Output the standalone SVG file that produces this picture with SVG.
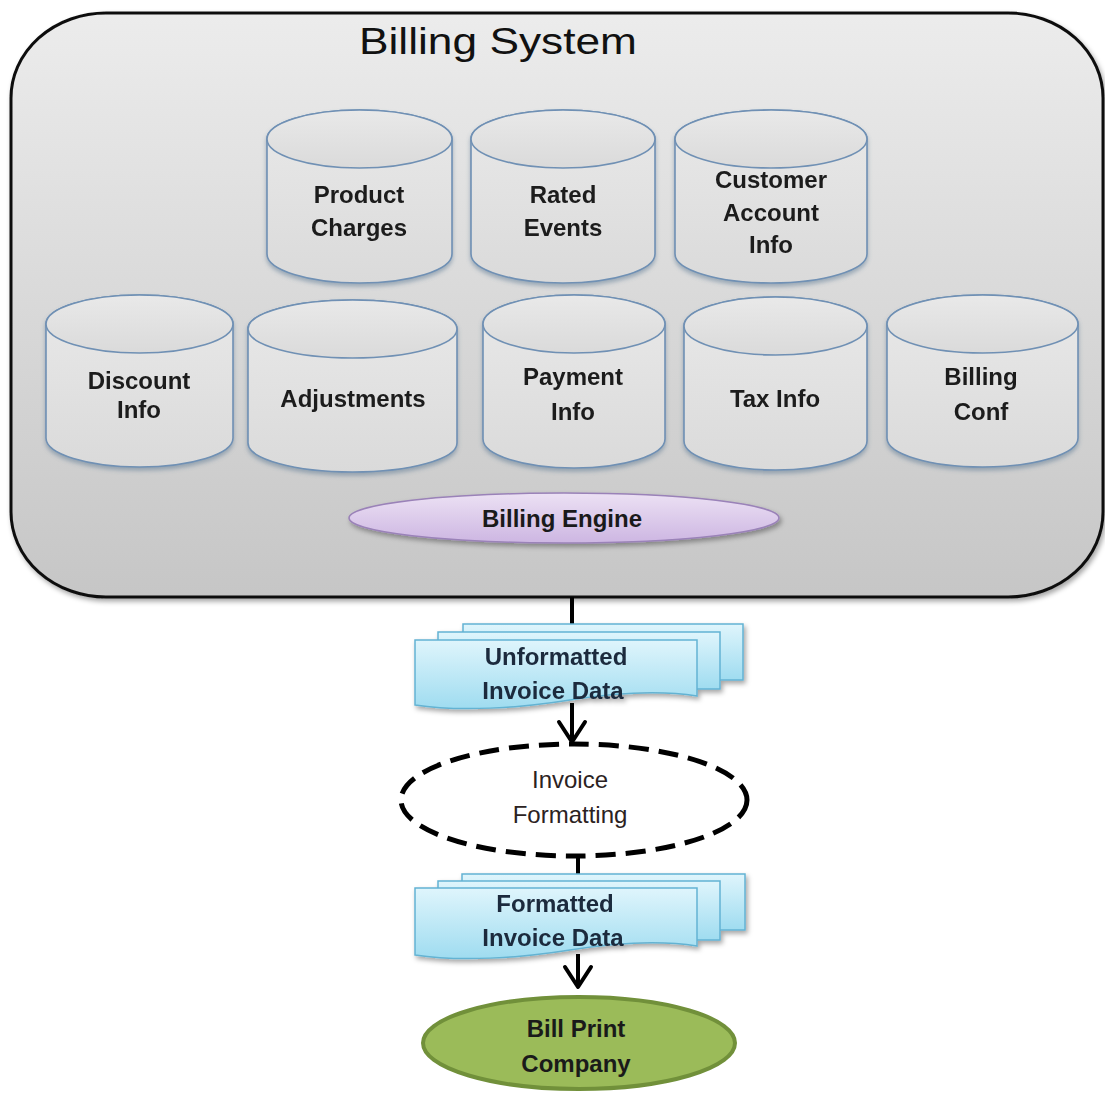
<svg xmlns="http://www.w3.org/2000/svg" width="1105" height="1095" viewBox="0 0 1105 1095">
<defs>
  <linearGradient id="gBox" x1="0" y1="0" x2="0" y2="1">
    <stop offset="0" stop-color="#ececec"/>
    <stop offset="1" stop-color="#c6c6c6"/>
  </linearGradient>
  <linearGradient id="gCyl" x1="0" y1="0" x2="0" y2="1">
    <stop offset="0" stop-color="#e9e9e9"/>
    <stop offset="1" stop-color="#dadada"/>
  </linearGradient>
  <linearGradient id="gEng" x1="0" y1="0" x2="0" y2="1">
    <stop offset="0" stop-color="#ece1f4"/>
    <stop offset="1" stop-color="#cdb6e2"/>
  </linearGradient>
  <linearGradient id="gDoc" x1="0" y1="0" x2="0" y2="1">
    <stop offset="0" stop-color="#dff5fc"/>
    <stop offset="1" stop-color="#9fdcf0"/>
  </linearGradient>
  <filter id="shadow" x="-10%" y="-10%" width="120%" height="130%">
    <feDropShadow dx="2" dy="3" stdDeviation="2.5" flood-color="#000" flood-opacity="0.35"/>
  </filter>
  <filter id="cshadow" x="-10%" y="-10%" width="120%" height="130%">
    <feDropShadow dx="0" dy="3" stdDeviation="2" flood-color="#4a6a8a" flood-opacity="0.45"/>
  </filter>
  <marker id="vee" viewBox="-24 -16 28 32" refX="0" refY="0" markerWidth="28" markerHeight="32" markerUnits="userSpaceOnUse" orient="auto">
    <path d="M-20,-13 L0,0 L-20,13" fill="none" stroke="#000" stroke-width="4" stroke-linecap="round" stroke-linejoin="round"/>
  </marker>
</defs>
<style>
  .cyl path, .cyl ellipse { fill: url(#gCyl); stroke: #6f90b4; stroke-width: 1.6; }
  .lbl { font-family: "Liberation Sans", Arial, sans-serif; font-weight: bold; font-size: 24px; fill: #1a1a1a; text-anchor: middle; }
  .doc path { fill: url(#gDoc); stroke: #63b3d3; stroke-width: 1.5; }
  .doctxt { font-family: "Liberation Sans", Arial, sans-serif; font-weight: bold; font-size: 24px; fill: #1b2a3c; text-anchor: middle; }
  .conn { stroke: #000; stroke-width: 4; fill: none; }
</style>

<rect width="1105" height="1095" fill="#ffffff"/>

<g id="billing-system">
  <rect x="11" y="13" width="1092" height="584" rx="95" ry="85" fill="url(#gBox)" stroke="#111" stroke-width="3" filter="url(#shadow)"/>
  <text x="498" y="54" font-family="Liberation Sans, Arial, sans-serif" font-size="37" fill="#111" text-anchor="middle" textLength="278" lengthAdjust="spacingAndGlyphs">Billing System</text>
</g>

<g id="product-charges" class="cyl" filter="url(#cshadow)">
  <path d="M267,139 A92.5,29 0 0 1 452,139 V254 A92.5,29 0 0 1 267,254 Z"/>
  <ellipse cx="359.5" cy="139" rx="92.5" ry="29"/>
  <text class="lbl" x="359" y="203">Product</text>
  <text class="lbl" x="359" y="236">Charges</text>
</g>
<g id="rated-events" class="cyl" filter="url(#cshadow)">
  <path d="M471,139 A92,29 0 0 1 655,139 V254 A92,29 0 0 1 471,254 Z"/>
  <ellipse cx="563" cy="139" rx="92" ry="29"/>
  <text class="lbl" x="563" y="203">Rated</text>
  <text class="lbl" x="563" y="236">Events</text>
</g>
<g id="customer-account-info" class="cyl" filter="url(#cshadow)">
  <path d="M675,139 A96,29 0 0 1 867,139 V254 A96,29 0 0 1 675,254 Z"/>
  <ellipse cx="771" cy="139" rx="96" ry="29"/>
  <text class="lbl" x="771" y="188">Customer</text>
  <text class="lbl" x="771" y="221">Account</text>
  <text class="lbl" x="771" y="253">Info</text>
</g>

<g id="discount-info" class="cyl" filter="url(#cshadow)">
  <path d="M46,324 A93.5,29 0 0 1 233,324 V438 A93.5,29 0 0 1 46,438 Z"/>
  <ellipse cx="139.5" cy="324" rx="93.5" ry="29"/>
  <text class="lbl" x="139" y="389">Discount</text>
  <text class="lbl" x="139" y="418">Info</text>
</g>
<g id="adjustments" class="cyl" filter="url(#cshadow)">
  <path d="M248,329 A104.5,29 0 0 1 457,329 V443 A104.5,29 0 0 1 248,443 Z"/>
  <ellipse cx="352.5" cy="329" rx="104.5" ry="29"/>
  <text class="lbl" x="353" y="407">Adjustments</text>
</g>
<g id="payment-info" class="cyl" filter="url(#cshadow)">
  <path d="M483,324 A91,29 0 0 1 665,324 V439 A91,29 0 0 1 483,439 Z"/>
  <ellipse cx="574" cy="324" rx="91" ry="29"/>
  <text class="lbl" x="573" y="385">Payment</text>
  <text class="lbl" x="573" y="420">Info</text>
</g>
<g id="tax-info" class="cyl" filter="url(#cshadow)">
  <path d="M684,326 A91.5,29 0 0 1 867,326 V441 A91.5,29 0 0 1 684,441 Z"/>
  <ellipse cx="775.5" cy="326" rx="91.5" ry="29"/>
  <text class="lbl" x="775" y="407">Tax Info</text>
</g>
<g id="billing-conf" class="cyl" filter="url(#cshadow)">
  <path d="M887,324 A95.5,29 0 0 1 1078,324 V438 A95.5,29 0 0 1 887,438 Z"/>
  <ellipse cx="982.5" cy="324" rx="95.5" ry="29"/>
  <text class="lbl" x="981" y="385">Billing</text>
  <text class="lbl" x="981" y="420">Conf</text>
</g>

<g id="billing-engine">
  <ellipse cx="564" cy="518" rx="215" ry="25" fill="url(#gEng)" stroke="#9a82b8" stroke-width="1.5" filter="url(#shadow)"/>
  <text class="lbl" x="562" y="527">Billing Engine</text>
</g>

<g id="connectors">
  <line class="conn" x1="572" y1="597" x2="572" y2="626"/>
  <line class="conn" x1="572" y1="703" x2="572" y2="742" marker-end="url(#vee)"/>
  <line class="conn" x1="578" y1="857" x2="578" y2="876"/>
  <line class="conn" x1="578" y1="954" x2="578" y2="987" marker-end="url(#vee)"/>
</g>

<g id="unformatted-invoice-data" class="doc" filter="url(#shadow)">
  <path d="M463,624 H743 V680 H463 Z"/>
  <path d="M438,632 H720 V689 H438 Z"/>
  <path d="M415,640 H697 V696 C660,690 620,692 570,700 C520,708 460,712 415,705 Z"/>
  <text class="doctxt" x="556" y="665">Unformatted</text>
  <text class="doctxt" x="553" y="699">Invoice Data</text>
</g>

<g id="invoice-formatting">
  <ellipse cx="574" cy="800" rx="173" ry="56" fill="#ffffff" stroke="#000" stroke-width="5" stroke-dasharray="20 10"/>
  <text x="570" y="788" font-family="Liberation Sans, Arial, sans-serif" font-size="24" fill="#2b2222" text-anchor="middle">Invoice</text>
  <text x="570" y="823" font-family="Liberation Sans, Arial, sans-serif" font-size="24" fill="#2b2222" text-anchor="middle">Formatting</text>
</g>

<g id="formatted-invoice-data" class="doc" filter="url(#shadow)">
  <path d="M462,874 H745 V930 H462 Z"/>
  <path d="M438,881 H720 V940 H438 Z"/>
  <path d="M415,888 H697 V946 C660,940 620,942 570,950 C520,958 460,962 415,955 Z"/>
  <text class="doctxt" x="555" y="912">Formatted</text>
  <text class="doctxt" x="553" y="946">Invoice Data</text>
</g>

<g id="bill-print-company">
  <ellipse cx="579" cy="1043" rx="156" ry="46" fill="#9bbb59" stroke="#71903a" stroke-width="4"/>
  <text class="lbl" x="576" y="1037">Bill Print</text>
  <text class="lbl" x="576" y="1072">Company</text>
</g>
</svg>
